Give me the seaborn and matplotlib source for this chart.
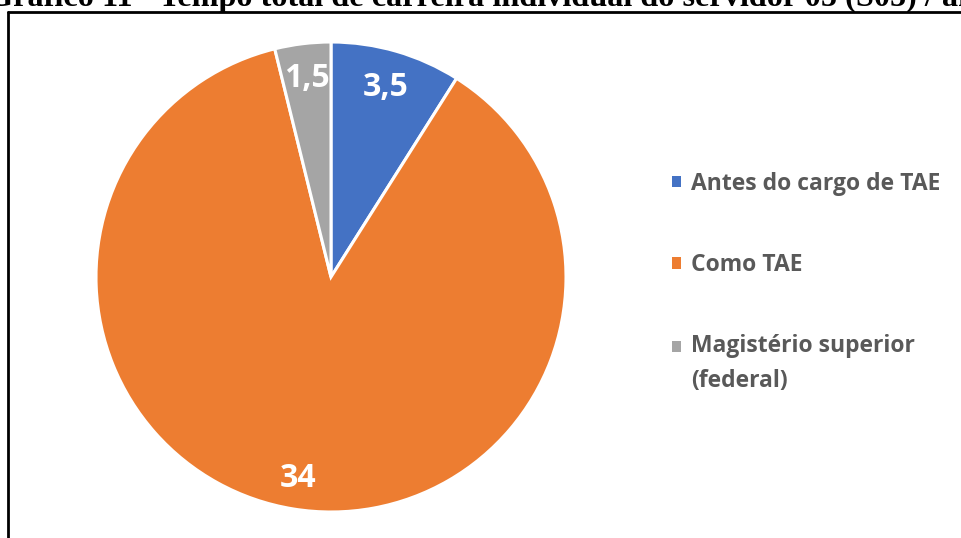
import matplotlib
matplotlib.use("Agg")
import matplotlib.pyplot as plt
from matplotlib.patches import Patch
from matplotlib.lines import Line2D
import numpy as np
import seaborn as sns

# Career time of server S05, in years
categories = ["Antes do cargo de TAE", "Como TAE", "Magistério superior\n(federal)"]
years = [3.5, 34, 1.5]
value_labels = ["3,5", "34", "1,5"]
title = "Gráfico 11 - Tempo total de carreira individual do servidor 05 (S05) / anos"

sns.set_theme(style="white")
plt.rcParams["font.family"] = ["Open Sans", "DejaVu Sans"]

colors = ["#4472C4", "#ED7D31", "#A5A5A5"]

W, H = 962, 538
fig = plt.figure(figsize=(W / 100, H / 100), dpi=100)

# pie placed by pixel centre and radius
cx, cy, r = 331, 277, 235
ax = fig.add_axes([(cx - r) / W, (H - cy - r) / H, 2 * r / W, 2 * r / H])
wedges, _ = ax.pie(years, colors=colors, startangle=90, counterclock=False,
                   wedgeprops=dict(edgecolor="white", linewidth=2.2))
ax.set_xlim(-1, 1)
ax.set_ylim(-1, 1)
ax.set_aspect("equal")
ax.axis("off")

for w, lab, d in zip(wedges, value_labels, [0.84, 0.87, 0.85]):
    mid = np.deg2rad((w.theta1 + w.theta2) / 2)
    ax.text(d * np.cos(mid), d * np.sin(mid), lab, ha="center", va="center",
            color="white", fontsize=23, fontweight="bold", family="Open Sans")

# legend
handles = [Patch(facecolor=c, edgecolor="none") for c in colors]
leg = fig.legend(handles, categories, loc="upper left",
                 bbox_to_anchor=(651 / W, 1 - 151 / H), frameon=False,
                 labelcolor="#595959",
                 prop=dict(family="Open Sans", weight="bold", size=16.5),
                 handlelength=0.42, handleheight=0.42, handletextpad=0.42,
                 labelspacing=2.5)
for t in leg.get_texts():
    t.set_linespacing(1.62)
# keep the marker of the two-line entry level with its first line
last = leg.legend_handles[2]
last.set_y(last.get_y() + 13)

# frame around the chart area
fig.add_artist(Line2D([8 / W, 8 / W], [0, 1 - 11.5 / H], color="black", lw=2.0,
                      transform=fig.transFigure))
fig.add_artist(Line2D([8 / W, 1], [1 - 11.5 / H, 1 - 11.5 / H], color="black", lw=2.0,
                      transform=fig.transFigure))

# heading above the frame
fig.text(-12 / W, 1 - 6 / H, title, ha="left", va="baseline",
         fontsize=23.2, fontweight="bold", family=["Liberation Serif"], color="black")

fig.savefig("out.png", dpi=100)
